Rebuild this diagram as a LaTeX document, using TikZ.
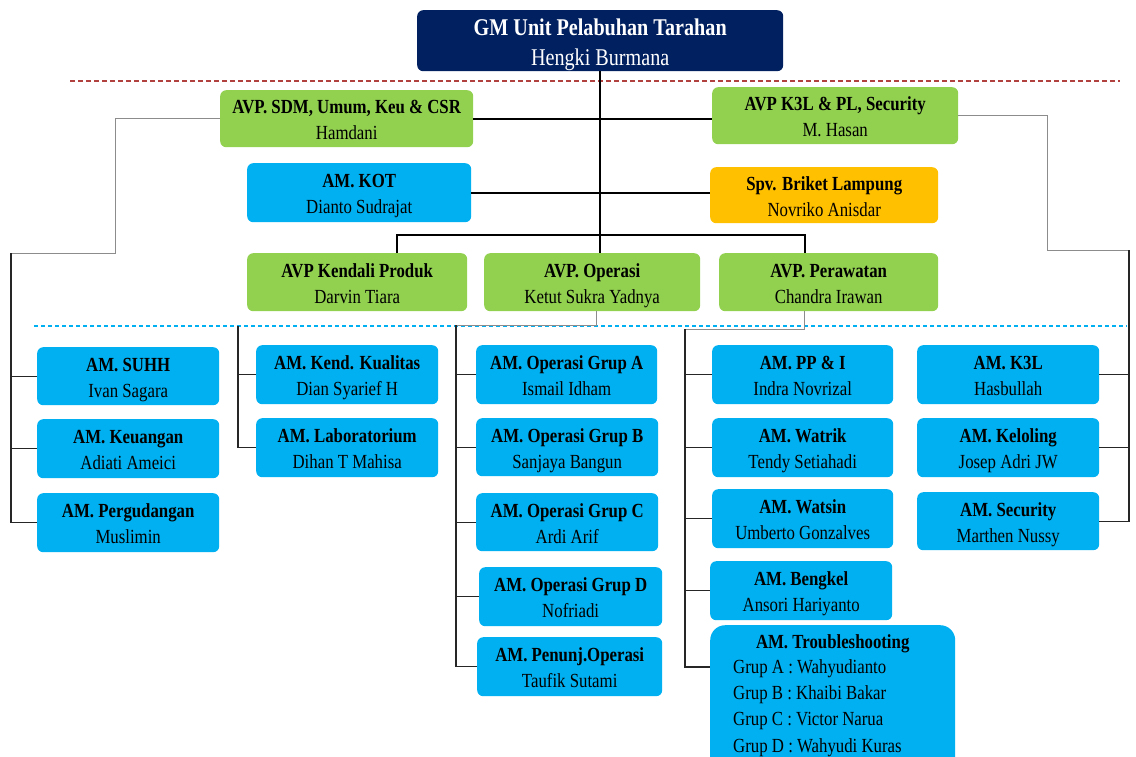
\documentclass[tikz,border=0pt]{standalone}
\usepackage{fontspec}
\setmainfont{Liberation Serif}[FakeStretch=0.84]
\usetikzlibrary{calc}
\definecolor{navy}{HTML}{002060}
\definecolor{lgreen}{HTML}{92D050}
\definecolor{lblue}{HTML}{00B0F0}
\definecolor{lorange}{HTML}{FFC000}
\definecolor{dred}{HTML}{B0413E}
\newcommand\boxtxt[2]{\rule{0pt}{21pt}\textbf{#1}\\#2\rule[-5pt]{0pt}{5pt}}
\tikzset{
  box/.style={rounded corners=6pt, inner sep=0pt, align=center, anchor=north west,
    font=\fontsize{20}{26}\selectfont, text=black},
  gbox/.style={box, fill=lgreen},
  bbox/.style={box, fill=lblue},
  mainline/.style={draw=black, line width=1.6pt},
  busline/.style={draw=black!85, line width=1.3pt},
  sideline/.style={draw=black!45, line width=1pt},
}
\begin{document}
\begin{tikzpicture}[x=1pt,y=-1pt]
\useasboundingbox (0,0) rectangle (1136,756);
% dashed separators
\draw[dred, line width=1.4pt, dash pattern=on 5pt off 3pt] (70,81) -- (1120,81);
\draw[lblue, line width=1.3pt, dash pattern=on 4pt off 3pt] (34,326) -- (1127,326);

% top
\node[box, fill=navy, text=white, minimum width=366, minimum height=61,
  font=\fontsize{24}{30}\selectfont] (gm) at (417,10)
  {\rule{0pt}{24pt}\textbf{GM Unit Pelabuhan Tarahan}\\Hengki Burmana\rule[-5pt]{0pt}{5pt}};

\node[gbox, minimum width=253, minimum height=57] (sdm) at (220,90) {\boxtxt{AVP. SDM, Umum, Keu \& CSR}{Hamdani}};
\node[gbox, minimum width=246, minimum height=57] (k3lavp) at (712,87) {\boxtxt{AVP K3L \& PL, Security}{M. Hasan}};
\node[bbox, minimum width=224, minimum height=59] (kot) at (247,163) {\boxtxt{AM. KOT}{Dianto Sudrajat}};
\node[box, fill=lorange, minimum width=228, minimum height=56] (briket) at (710,167) {\boxtxt{Spv. Briket Lampung}{Novriko Anisdar}};
\node[gbox, minimum width=220, minimum height=58] (kendali) at (247,253) {\boxtxt{AVP Kendali Produk}{Darvin Tiara}};
\node[gbox, minimum width=216, minimum height=58] (operasi) at (484,253) {\boxtxt{AVP. Operasi}{Ketut Sukra Yadnya}};
\node[gbox, minimum width=219, minimum height=58] (perawatan) at (719,253) {\boxtxt{AVP. Perawatan}{Chandra Irawan}};

% column 1
\node[bbox, minimum width=182, minimum height=58] (suhh) at (37,347) {\boxtxt{AM. SUHH}{Ivan Sagara}};
\node[bbox, minimum width=182, minimum height=59] (keuangan) at (37,419) {\boxtxt{AM. Keuangan}{Adiati Ameici}};
\node[bbox, minimum width=182, minimum height=59] (pergudangan) at (37,493) {\boxtxt{AM. Pergudangan}{Muslimin}};
% column 2
\node[bbox, minimum width=182, minimum height=59] (kualitas) at (256,345) {\boxtxt{AM. Kend. Kualitas}{Dian Syarief H}};
\node[bbox, minimum width=182, minimum height=59] (lab) at (256,418) {\boxtxt{AM. Laboratorium}{Dihan T Mahisa}};
% column 3
\node[bbox, minimum width=181, minimum height=59] (opa) at (476,345) {\boxtxt{AM. Operasi Grup A}{Ismail Idham}};
\node[bbox, minimum width=182, minimum height=58] (opb) at (476,418) {\boxtxt{AM. Operasi Grup B}{Sanjaya Bangun}};
\node[bbox, minimum width=182, minimum height=58] (opc) at (476,493) {\boxtxt{AM. Operasi Grup C}{Ardi Arif}};
\node[bbox, minimum width=183, minimum height=59] (opd) at (479,567) {\boxtxt{AM. Operasi Grup D}{Nofriadi}};
\node[bbox, minimum width=185, minimum height=59] (penunj) at (477,637) {\boxtxt{AM. Penunj.Operasi}{Taufik Sutami}};
% column 4
\node[bbox, minimum width=181, minimum height=59] (ppi) at (712,345) {\boxtxt{AM. PP \& I}{Indra Novrizal}};
\node[bbox, minimum width=181, minimum height=59] (watrik) at (712,418) {\boxtxt{AM. Watrik}{Tendy Setiahadi}};
\node[bbox, minimum width=181, minimum height=59] (watsin) at (712,489) {\boxtxt{AM. Watsin}{Umberto Gonzalves}};
\node[bbox, minimum width=182, minimum height=59] (bengkel) at (710,561) {\boxtxt{AM. Bengkel}{Ansori Hariyanto}};
\node[bbox, rounded corners=15pt, minimum width=245, minimum height=160] (trouble) at (710,625) {};
\node[anchor=base, inner sep=0pt, font=\fontsize{20}{26}\selectfont] (troubletitle) at ($(trouble.north)+(0,23)$) {\textbf{AM. Troubleshooting}};
\node[anchor=north west, inner sep=0pt, align=left, font=\fontsize{20}{26.3}\selectfont] (troublelist) at (733,658)
  {\rule{0pt}{15pt}Grup A : Wahyudianto\\Grup B : Khaibi Bakar\\Grup C : Victor Narua\\Grup D : Wahyudi Kuras};
% column 5
\node[bbox, minimum width=182, minimum height=59] (k3l) at (917,345) {\boxtxt{AM. K3L}{Hasbullah}};
\node[bbox, minimum width=182, minimum height=59] (keloling) at (917,418) {\boxtxt{AM. Keloling}{Josep Adri JW}};
\node[bbox, minimum width=182, minimum height=58] (security) at (917,492) {\boxtxt{AM. Security}{Marthen Nussy}};

% main connectors
\draw[mainline] (gm.south) -- (gm.south |- operasi.north);
\draw[mainline] (sdm.east) -- (sdm.east -| k3lavp.west);
\draw[mainline] (kot.east) -- (kot.east -| briket.west);
\draw[mainline] ([xshift=40pt]kendali.north) -- ++(0,-18) -| ([xshift=-24pt]perawatan.north);

% left bus
\coordinate (lj) at (115,253);
\coordinate (lbus) at (11,253);
\draw[sideline] (sdm.west) -| (lj) -- (lbus);
\draw[busline] (lbus) |- (pergudangan.west);
\draw[busline] (lbus |- suhh.west) -- (suhh.west);
\draw[busline] (lbus |- keuangan.west) -- (keuangan.west);

% right bus
\coordinate (rj) at (1047,250);
\coordinate (rbus) at (1129,250);
\draw[sideline] (k3lavp.east) -| (rj) -- (rbus);
\draw[busline] (rbus) |- (security.east);
\draw[busline] (rbus |- k3l.east) -- (k3l.east);
\draw[busline] (rbus |- keloling.east) -- (keloling.east);

% kendali bus
\coordinate (kb) at (238,326);
\draw[busline] (kb) |- (lab.west);
\draw[busline] (kb |- kualitas.west) -- (kualitas.west);

% operasi bus
\coordinate (ob) at (456,325);
\draw[sideline] ([xshift=4pt]operasi.south) |- (ob);
\draw[busline] (ob) |- (penunj.west);
\draw[busline] (ob |- opa.west) -- (opa.west);
\draw[busline] (ob |- opb.west) -- (opb.west);
\draw[busline] (ob |- opc.west) -- (opc.west);
\draw[busline] (ob |- opd.west) -- (opd.west);

% perawatan bus
\coordinate (pb) at (685,329);
\draw[sideline] ([xshift=-24pt]perawatan.south) |- (pb);
\draw[busline] (pb) |- ([yshift=-42pt]trouble.north west);
\draw[busline] (pb |- ppi.west) -- (ppi.west);
\draw[busline] (pb |- watrik.west) -- (watrik.west);
\draw[busline] (pb |- watsin.west) -- (watsin.west);
\draw[busline] (pb |- bengkel.west) -- (bengkel.west);
\end{tikzpicture}
\end{document}
